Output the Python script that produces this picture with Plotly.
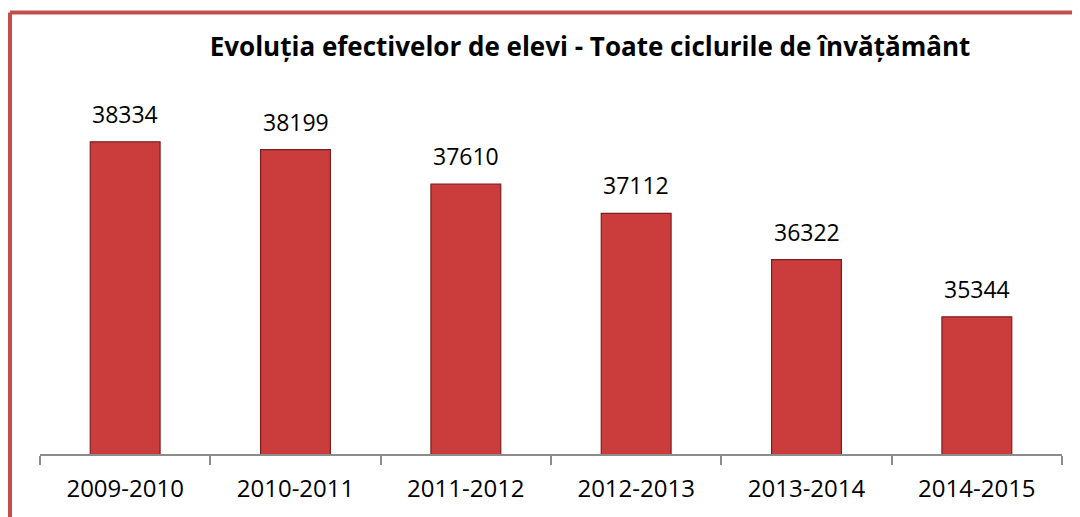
import plotly.graph_objects as go

ani = ["2009-2010", "2010-2011", "2011-2012", "2012-2013", "2013-2014", "2014-2015"]
elevi = [38334, 38199, 37610, 37112, 36322, 35344]

titlu = "Evoluția efectivelor de elevi - Toate ciclurile de învățământ"

# pagina are o margine de 8px, deci totul e mutat cu 8px spre stanga/sus
W, H = 1080, 517
ml, mr, mt, mb = 32, 26, 72, 71
pw = W - ml - mr
ph = H - mt - mb

fig = go.Figure()

fig.add_trace(go.Bar(
    x=ani,
    y=elevi,
    width=0.41,
    marker=dict(color="#CB3C3C", line=dict(color="#7E1F1F", width=1.2)),
    hoverinfo="x+y",
    showlegend=False
))

# etichete de valori deasupra barelor
annotations = []
for a, v in zip(ani, elevi):
    annotations.append(dict(
        x=a, y=v, text=str(v), showarrow=False,
        xref="x", yref="y", yanchor="middle", yshift=28,
        font=dict(family="Open Sans", size=23, color="#000000")
    ))

# chenarul rosu (stanga si sus)
bx = (2 - ml) / pw
by = (mt + ph - 4.5) / ph
shapes = [
    dict(type="line", xref="paper", yref="paper", x0=bx, x1=bx, y0=-0.3, y1=by,
         line=dict(color="#C0504D", width=4)),
    dict(type="line", xref="paper", yref="paper", x0=bx, x1=1.1, y0=by, y1=by,
         line=dict(color="#C0504D", width=4)),
]

fig.update_layout(
    width=W, height=H,
    margin=dict(l=ml, r=mr, t=mt, b=mb),
    paper_bgcolor="white",
    plot_bgcolor="white",
    title=dict(
        text="<b>" + titlu + "</b>",
        x=582 / W, xanchor="center", xref="container",
        y=1 - 39 / H, yanchor="middle", yref="container",
        font=dict(family="Open Sans", size=26, color="#000000")
    ),
    xaxis=dict(
        showline=True, linecolor="#8C8C8C", linewidth=1.5,
        ticks="outside", tickson="boundaries", ticklen=9, tickcolor="#8C8C8C", tickwidth=1.5,
        tickfont=dict(family="Open Sans", size=24, color="#000000"),
        ticklabelstandoff=12,
        showgrid=False
    ),
    yaxis=dict(
        range=[33000, 33000 + ph / 0.058528],
        visible=False, showgrid=False
    ),
    annotations=annotations,
    shapes=shapes,
    bargap=0.59
)

fig.write_html("out.html")
